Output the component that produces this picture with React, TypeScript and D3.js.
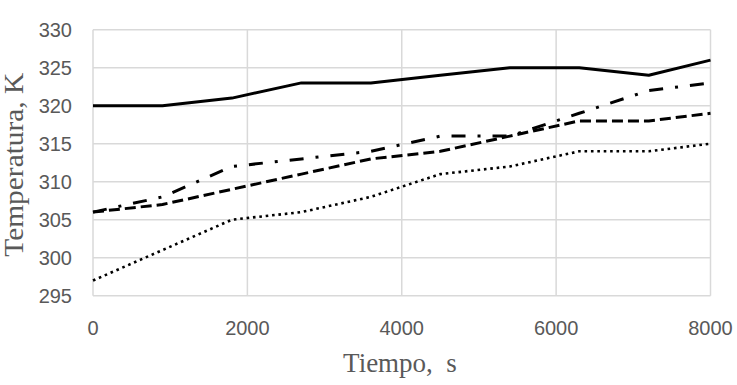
import React from "react";
import * as d3 from "d3";

const times = [0, 900, 1800, 2700, 3600, 4500, 5400, 6300, 7200, 8000];
const solidSeries = [320, 320, 321, 323, 323, 324, 325, 325, 324, 326];
const dashDotSeries = [306, 308, 312, 313, 314, 316, 316, 319, 322, 323];
const dashedSeries = [306, 307, 309, 311, 313, 314, 316, 318, 318, 319];
const dottedSeries = [297, 301, 305, 306, 308, 311, 312, 314, 314, 315];
const xTicks = [0, 2000, 4000, 6000, 8000];
const yTicks = [295, 300, 305, 310, 315, 320, 325, 330];
const xTitle = "Tiempo,  s";
const yTitle = "Temperatura, K";

const W = 737;
const H = 385;

export default function App() {
  const x = d3.scaleLinear().domain([0, 8000]).range([93, 710.5]);
  const y = d3.scaleLinear().domain([295, 330]).range([295.7, 29.7]);
  const line = d3
    .line<number>()
    .x((_, i) => x(times[i]))
    .y((d) => y(d));

  const series = [
    { data: solidSeries, dash: "none", w: 3 },
    { data: dashDotSeries, dash: "14,12,3,12", w: 3 },
    { data: dashedSeries, dash: "11,5", w: 3 },
    { data: dottedSeries, dash: "2.6,3.8", w: 2.6 },
  ];

  const tickFont = "'Liberation Sans', Arial, sans-serif";
  const titleFont = "'Liberation Serif', 'Times New Roman', serif";
  const grey = "#595959";
  const grid = "#d9d9d9";

  return (
    <svg
      width={W}
      height={H}
      style={{ position: "absolute", left: 0, top: 0, background: "#fff" }}
    >
      <rect x={0} y={0} width={W} height={H} fill="#fff" />
      {yTicks.map((t) => (
        <line
          key={"gy" + t}
          x1={x(0)}
          x2={x(8000)}
          y1={y(t)}
          y2={y(t)}
          stroke={grid}
          strokeWidth={1.5}
        />
      ))}
      {xTicks.map((t) => (
        <line
          key={"gx" + t}
          x1={x(t)}
          x2={x(t)}
          y1={y(295)}
          y2={y(330)}
          stroke={grid}
          strokeWidth={1.5}
        />
      ))}
      {yTicks.map((t) => (
        <text
          key={"ty" + t}
          x={72}
          y={y(t)}
          dy="0.36em"
          textAnchor="end"
          fontFamily={tickFont}
          fontSize={20}
          fill={grey}
        >
          {t}
        </text>
      ))}
      {xTicks.map((t) => (
        <text
          key={"tx" + t}
          x={x(t)}
          y={335}
          textAnchor="middle"
          fontFamily={tickFont}
          fontSize={20}
          fill={grey}
        >
          {t}
        </text>
      ))}
      {series.map((s, i) => (
        <path
          key={"s" + i}
          d={line(s.data) || ""}
          fill="none"
          stroke="#000"
          strokeWidth={s.w}
          strokeDasharray={s.dash}
          strokeLinejoin="round"
        />
      ))}
      <text
        x={400}
        y={372}
        textAnchor="middle"
        fontFamily={titleFont}
        fontSize={27}
        fill={grey}
        style={{ whiteSpace: "pre" }}
      >
        {xTitle}
      </text>
      <text
        transform={`translate(23, 164.7) rotate(-90)`}
        textAnchor="middle"
        fontFamily={titleFont}
        fontSize={26.5}
        fill={grey}
        textLength={184}
        lengthAdjust="spacingAndGlyphs"
      >
        {yTitle}
      </text>
    </svg>
  );
}
